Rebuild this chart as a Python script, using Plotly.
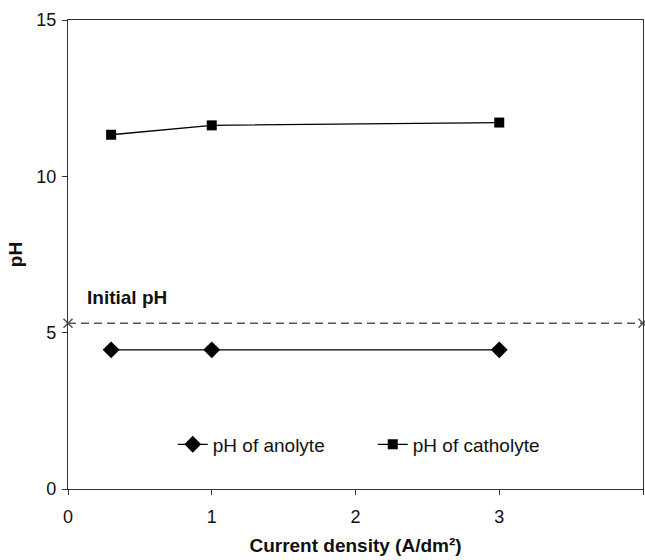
import plotly.graph_objects as go

# Current density (A/dm²) and measured pH
current_density = [0.3, 1, 3]
ph_anolyte = [4.45, 4.45, 4.45]
ph_catholyte = [11.33, 11.63, 11.72]

initial_x = [0, 4]
initial_ph = [5.3, 5.3]

x_ticks = [0, 1, 2, 3, 4]
y_ticks = [0, 5, 10, 15]

FONT = "Liberation Sans, Arial"

fig = go.Figure()

fig.add_trace(go.Scatter(
    x=initial_x, y=initial_ph, mode="lines+markers",
    line=dict(color="#555555", width=1.6, dash="8px,5px"),
    marker=dict(symbol="x-thin", size=9, line=dict(color="#555555", width=1.5)),
    showlegend=False, cliponaxis=False,
))
fig.add_trace(go.Scatter(
    x=current_density, y=ph_anolyte, mode="lines+markers", name="pH of anolyte",
    line=dict(color="#000000", width=1.3),
    marker=dict(symbol="diamond", size=13, color="#000000"),
))
fig.add_trace(go.Scatter(
    x=current_density, y=ph_catholyte, mode="lines+markers", name="pH of catholyte",
    line=dict(color="#000000", width=1.3),
    marker=dict(symbol="square", size=10, color="#000000"),
))

fig.add_annotation(
    x=0.12, y=6.12, xref="x", yref="y", text="<b>Initial pH</b>",
    showarrow=False, xanchor="left", yanchor="middle",
    font=dict(family=FONT, size=19, color="#111111"),
)

axis_common = dict(
    showgrid=False, zeroline=False, showline=True, linecolor="#333333", linewidth=1.3,
    ticks="outside", ticklen=5, tickcolor="#333333", tickwidth=1.3,
    tickfont=dict(family=FONT, size=18, color="#111111"),
    mirror=True,
)

fig.update_layout(
    width=645, height=560,
    margin=dict(l=68, r=2, t=20, b=71),
    plot_bgcolor="white", paper_bgcolor="white",
    xaxis=dict(
        range=[0, 4], tickvals=x_ticks, ticklabelstandoff=6,
        title=dict(text="<b>Current density (A/dm²)</b>", standoff=12,
                   font=dict(family=FONT, size=19, color="#111111")),
        **axis_common,
    ),
    yaxis=dict(
        range=[0, 15], tickvals=y_ticks, ticklabelstandoff=2,
        title=dict(text="<b>pH</b>", standoff=8,
                   font=dict(family=FONT, size=19, color="#111111")),
        **axis_common,
    ),
    legend=dict(
        orientation="h", x=0.53, y=0.095, xanchor="center", yanchor="middle",
        bgcolor="rgba(0,0,0,0)", entrywidth=155, entrywidthmode="pixels",
        font=dict(family=FONT, size=19, color="#111111"),
    ),
)

fig.write_html("out.html")
